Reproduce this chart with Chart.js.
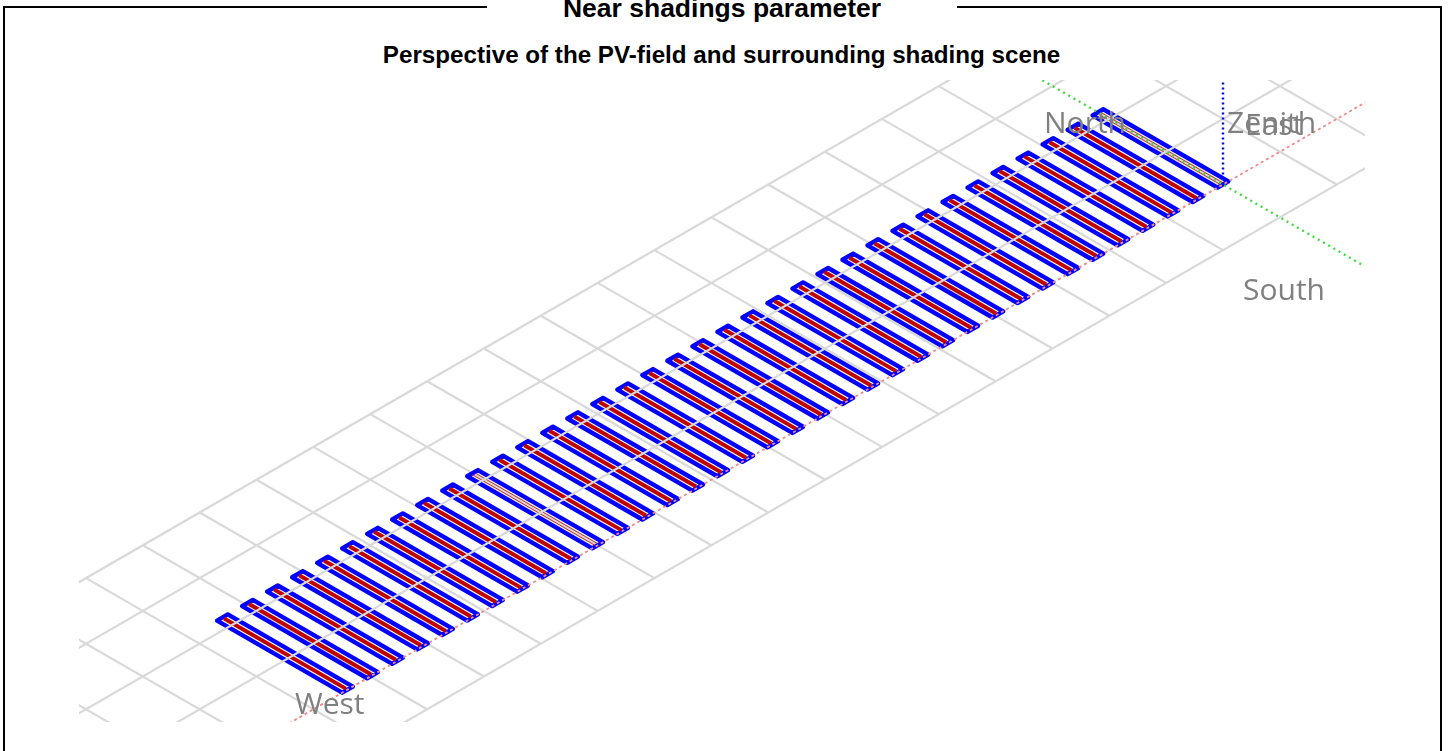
<!DOCTYPE html>
<html>
<head>
<meta charset="utf-8">
<title>Near shadings parameter</title>
<script src="https://cdn.jsdelivr.net/npm/chart.js@4"></script>
<style>
  html, body { margin: 0; padding: 0; background: #fff; overflow: hidden; }
  #page { position: relative; width: 1448px; height: 751px; overflow: hidden; font-family: "Liberation Sans", Arial, sans-serif; }
  #frame { position: absolute; left: 3px; top: 6px; width: 1435px; height: 800px; border: 2px solid #000; }
  #heading { position: absolute; left: 487px; top: 0; width: 470px; height: 22px; background: #fff; text-align: center; font-weight: bold; font-size: 26.5px; line-height: 16px; white-space: nowrap; color: #000; }
  #subheading { position: absolute; left: 0; top: 41px; width: 1443px; text-align: center; font-weight: bold; font-size: 24.2px; line-height: 28px; white-space: nowrap; }
  canvas { position: absolute; left: 0; top: 0; }
</style>
</head>
<body>
<div id="page">
  <div id="frame"></div>
  <div id="heading">Near shadings parameter</div>
  <div id="subheading">Perspective of the PV-field and surrounding shading scene</div>
  <canvas id="scene" width="1448" height="751"></canvas>
</div>
<script>
// scene values in metres, east and south of the origin
const rowEast = [-154, -149.6, -145.2, -140.8, -136.4, -132, -127.6, -123.2, -118.8, -114.4, -110, -105.6,
  -101.2, -96.8, -92.4, -88, -83.6, -79.2, -74.8, -70.4, -66, -61.6, -57.2, -52.8, -48.4, -44, -39.6,
  -35.2, -30.8, -26.4, -22, -17.6, -13.2, -8.8, -4.4, 0];
const rowHalfWidth = 0.94;
const rowNorthEnd = -22;
const rowSouthEnd = 0;
const overlapRows = [-110, 0]; // rows lying exactly on a grid line, red and grey fight there
const gridEast = [-210, -200, -190, -180, -170, -160, -150, -140, -130, -120, -110, -100, -90, -80, -70,
  -60, -50, -40, -30, -20, -10, 10, 20, 30, 40];
const gridSouth = [-40, -30, -20, -10, 10];
const gridNorthEnd = -40;
const gridSouthEnd = 10;
const gridWestEnd = -210;
const gridEastEnd = 40;
const zenithHeight = 103;
const axisLabels = ['North', 'Zenith', 'East', 'South', 'West'];

function project(east, south, up) {
  return { x: (east + south) * 5.685, y: (east - south) * 3.28 + (up || 0) };
}
const gap = { x: NaN, y: NaN };

function line(points, color, width, order, dash) {
  return {
    data: points, showLine: true, pointRadius: 0, borderColor: color, borderWidth: width,
    order, borderDash: dash || [], borderJoinStyle: 'round', tension: 0, spanGaps: false
  };
}

const southLines = gridEast.flatMap(e => [project(e, gridNorthEnd), project(e, gridSouthEnd), gap]);
const eastLines = gridSouth.flatMap(s => [project(gridWestEnd, s), project(gridEastEnd, s), gap]);
const rowOutlines = rowEast.flatMap(e => [
  project(e - rowHalfWidth, rowNorthEnd), project(e + rowHalfWidth, rowNorthEnd),
  project(e + rowHalfWidth, rowSouthEnd), project(e - rowHalfWidth, rowSouthEnd),
  project(e - rowHalfWidth, rowNorthEnd), project(e + rowHalfWidth, rowNorthEnd), gap
]);
const plainRows = rowEast.filter(e => !overlapRows.includes(e));
const redStripes = plainRows.flatMap(e => [project(e, rowNorthEnd + 0.3), project(e, rowSouthEnd - 0.3), gap]);
const greyBands = overlapRows.flatMap(e => [project(e, rowNorthEnd + 0.3), project(e, rowSouthEnd - 0.3), gap]);
const thinStripes = overlapRows.flatMap(e => [
  project(e - 0.24, rowNorthEnd + 0.3), project(e - 0.24, rowSouthEnd - 0.3), gap,
  project(e + 0.24, rowNorthEnd + 0.3), project(e + 0.24, rowSouthEnd - 0.3), gap
]);

// lower order is drawn on top
const datasets = [
  line(southLines, '#d9d9d9', 2.2, 9),
  line(greyBands, '#d9d9d9', 5, 8),
  line(rowOutlines, '#0000ff', 4.4, 7),
  line(redStripes, '#c00000', 4, 6),
  line(thinStripes, '#c83030', 1, 5),
  line(eastLines, '#d9d9d9', 2.2, 4),
  line([project(gridWestEnd, 0), project(gridEastEnd, 0)], '#f08a8a', 1.8, 3, [3, 3]),
  line([project(0, gridNorthEnd), project(0, 24.7)], '#38dc38', 2.2, 2, [2, 4]),
  line([project(0, 0), project(0, 0, zenithHeight)], '#0000ff', 2.4, 1, [2, 3])
];

const sceneLabels = {
  id: 'sceneLabels',
  afterDatasetsDraw(chart) {
    const ctx = chart.ctx;
    const where = [[1044, 133], [1227, 133], [1245, 135], [1243, 300], [295, 714]];
    ctx.save();
    ctx.font = '30px "Open Sans"';
    ctx.fillStyle = '#808080';
    axisLabels.forEach((t, i) => ctx.fillText(t, where[i][0], where[i][1]));
    ctx.restore();
  }
};

new Chart(document.getElementById('scene'), {
  type: 'scatter',
  data: { datasets },
  options: {
    responsive: false,
    animation: false,
    layout: { padding: { left: 79, right: 83, top: 80, bottom: 29 } },
    scales: {
      x: { type: 'linear', display: false, min: -1144, max: 142 },
      y: { type: 'linear', display: false, min: -537.5, max: 104.5 }
    },
    plugins: { legend: { display: false }, tooltip: { enabled: false } }
  },
  plugins: [sceneLabels]
});
</script>
</body>
</html>
